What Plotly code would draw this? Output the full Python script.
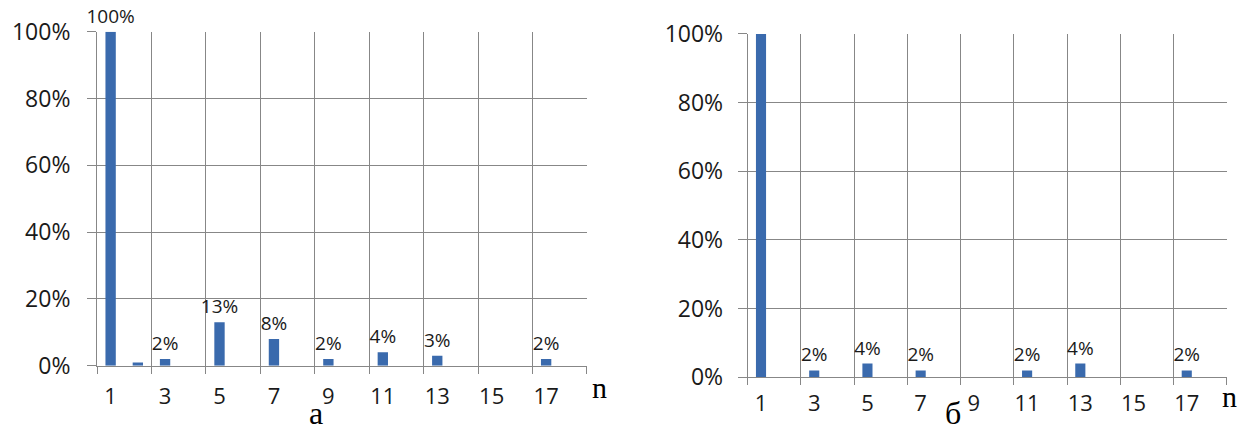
import plotly.graph_objects as go

# Harmonic number n and the relative amplitude of each harmonic (percent of the 1st)
tick_numbers = [1, 3, 5, 7, 9, 11, 13, 15, 17]

a_n = [1, 2, 3, 5, 7, 9, 11, 13, 17]
a_share = [100, 1, 2, 13, 8, 2, 4, 3, 2]
a_labelled = [True, False, True, True, True, True, True, True, True]

b_n = [1, 3, 5, 7, 11, 13, 17]
b_share = [100, 2, 4, 2, 2, 4, 2]
b_labelled = [False, True, True, True, True, True, True]

BAR = "#3a6aad"
GRID = "#878787"
TEXT = "#1a1a1a"
SANS = "Open Sans"
SERIF = "Liberation Serif"


def bar_trace(ns, shares, labelled, xa, ya):
    return go.Bar(
        x=ns,
        y=[s / 100 for s in shares],
        text=[f"{s}%" if lab else "" for s, lab in zip(shares, labelled)],
        textposition="outside",
        constraintext="none",
        cliponaxis=False,
        textfont=dict(family=SANS, size=19, color=TEXT),
        marker=dict(color=BAR, line=dict(width=0)),
        width=0.38,
        xaxis=xa,
        yaxis=ya,
        showlegend=False,
        hoverinfo="skip",
    )


fig = go.Figure()
fig.add_trace(bar_trace(a_n, a_share, a_labelled, "x", "y"))
fig.add_trace(bar_trace(b_n, b_share, b_labelled, "x2", "y2"))

boundaries = [0.5 + 2 * k for k in range(10)]


def x_axis(domain, anchor, standoff):
    return dict(
        domain=domain,
        anchor=anchor,
        automargin=False,
        range=[0.5, 18.5],
        tickmode="array",
        tickvals=tick_numbers,
        ticktext=[str(t) for t in tick_numbers],
        ticks="",
        showgrid=False,
        zeroline=False,
        showline=True,
        linecolor=GRID,
        linewidth=1,
        tickfont=dict(family=SANS, size=22, color=TEXT),
        ticklabelstandoff=standoff,
        minor=dict(
            tickmode="array",
            tickvals=boundaries,
            showgrid=True,
            gridcolor=GRID,
            gridwidth=1,
            ticks="outside",
            ticklen=7,
            tickcolor=GRID,
            tickwidth=1,
        ),
        fixedrange=True,
    )


def y_axis(domain, anchor, standoff):
    return dict(
        domain=domain,
        anchor=anchor,
        automargin=False,
        range=[0, 1],
        tickmode="linear",
        tick0=0,
        dtick=0.2,
        tickformat=".0%",
        showgrid=True,
        gridcolor=GRID,
        gridwidth=1,
        zeroline=False,
        showline=True,
        linecolor=GRID,
        linewidth=1,
        ticks="outside",
        ticklen=9,
        tickcolor=GRID,
        tickwidth=1,
        tickfont=dict(family=SANS, size=23, color=TEXT),
        ticklabelstandoff=standoff,
        fixedrange=True,
    )


def caption(text, px_x, px_y, size, anchor="middle"):
    return dict(text=text, x=px_x / 1247, y=1 - px_y / 433, xref="paper", yref="paper",
                yanchor=anchor, showarrow=False,
                font=dict(family=SERIF, size=size, color="#000000"))


fig.update_layout(
    width=1247,
    height=433,
    autosize=False,
    margin=dict(l=0, r=0, t=0, b=0, pad=0),
    paper_bgcolor="white",
    plot_bgcolor="white",
    xaxis=x_axis([0.0778, 0.4707], "y", 11),
    yaxis=y_axis([0.1554, 0.9268], "x", 12),
    xaxis2=x_axis([0.5996, 0.9837], "y2", 6),
    yaxis2=y_axis([0.1286, 0.9215], "x2", 10),
    annotations=[
        caption("n", 599, 387, 30),
        caption("n", 1239, 396, 30),
        caption("а", 307, 433, 32, "bottom"),
        caption("б", 963, 433, 32, "bottom"),
    ],
)

fig.write_html("out.html")
